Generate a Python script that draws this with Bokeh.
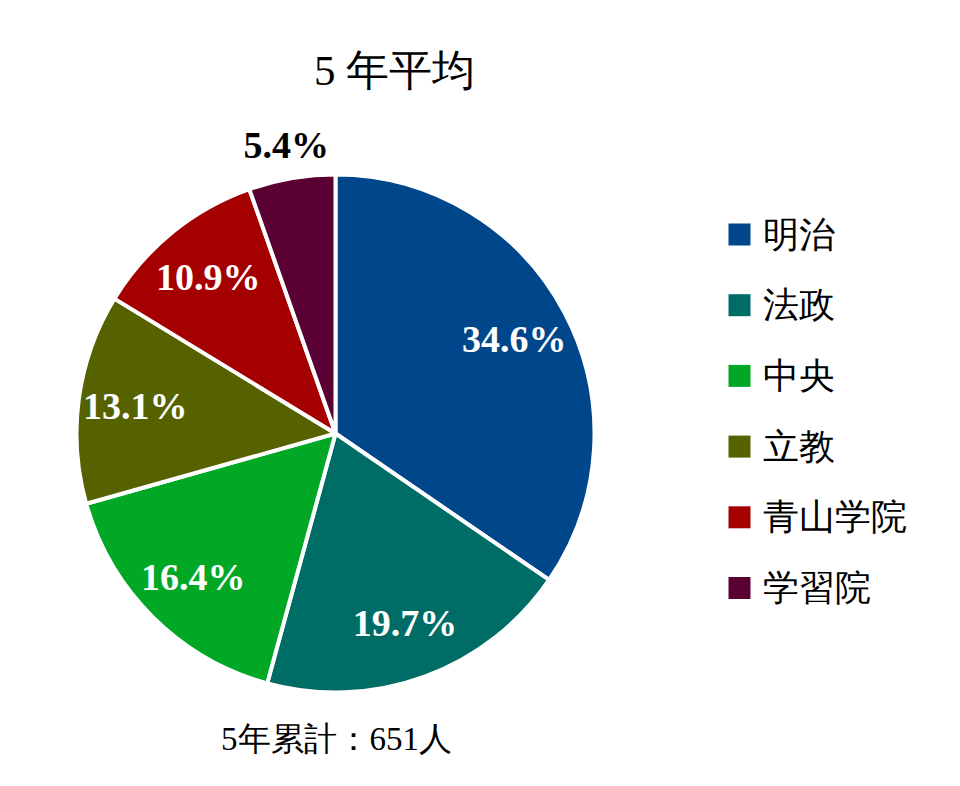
import numpy as np
from bokeh.plotting import figure
from bokeh.models import ColumnDataSource, Range1d
from bokeh.core.properties import value
from bokeh.embed import file_html
from bokeh.resources import INLINE

# ---- data ----
title = "5 年平均"
footer = "5年累計：651人"
categories = ["明治", "法政", "中央", "立教", "青山学院", "学習院"]
shares = [34.6, 19.7, 16.4, 13.1, 10.9, 5.4]
colors = ["#00468A", "#006C66", "#00A826", "#566200", "#A50000", "#5B0033"]

# ---- layout (pixel-like data space) ----
W, H = 944, 770
cx, cy, R = 335, 337, 259
SERIF = "Liberation Serif"

frac = np.array(shares) / sum(shares)
cum_end = np.cumsum(frac)
cum_start = cum_end - frac
start = np.pi / 2 - 2 * np.pi * cum_start
end = np.pi / 2 - 2 * np.pi * cum_end
mid = (start + end) / 2
rfac = np.where(frac >= 0.08, 0.78, 1.13)
lx = cx + R * rfac * np.cos(mid)
ly = cy + R * rfac * np.sin(mid)
lcol = ["white" if f >= 0.08 else "black" for f in frac]
labels = [f"{s:.1f}%" for s in shares]

src = ColumnDataSource(dict(start=start, end=end, color=colors, lx=lx, ly=ly,
                            lcol=lcol, label=labels, cat=categories))

p = figure(width=W, height=H, output_backend="svg", toolbar_location=None,
           x_range=Range1d(0, W), y_range=Range1d(0, H), min_border=0)
p.axis.visible = False
p.grid.visible = False
p.outline_line_color = None
p.background_fill_color = "white"

p.wedge(x=cx, y=cy, radius=R, start_angle="start", end_angle="end",
        direction="clock", fill_color="color", line_color="white",
        line_width=4, source=src)

p.text(x="lx", y="ly", text="label", text_color="lcol",
       text_font=value(SERIF), text_font_style="bold", text_font_size="38px",
       text_align="center", text_baseline="middle", source=src)

# legend
n = len(categories)
ley = 536 - np.arange(n) * 70.7
lsrc = ColumnDataSource(dict(y=ley, color=colors, cat=categories))
p.rect(x=739, y="y", width=22, height=22, fill_color="color",
       line_color=None, source=lsrc)
p.text(x=762, y="y", text="cat", text_font=value(SERIF),
       text_font_size="36px", text_color="black", text_align="left",
       text_baseline="middle", source=lsrc)

# title & footer
p.text(x=[394], y=[700], text=[title], text_font=value(SERIF),
       text_font_size="43px", text_color="black", text_align="center",
       text_baseline="middle")
p.text(x=[336], y=[32], text=[footer], text_font=value(SERIF),
       text_font_size="33px", text_color="black", text_align="center",
       text_baseline="middle")

open("out.html", "w").write(file_html(p, INLINE))
